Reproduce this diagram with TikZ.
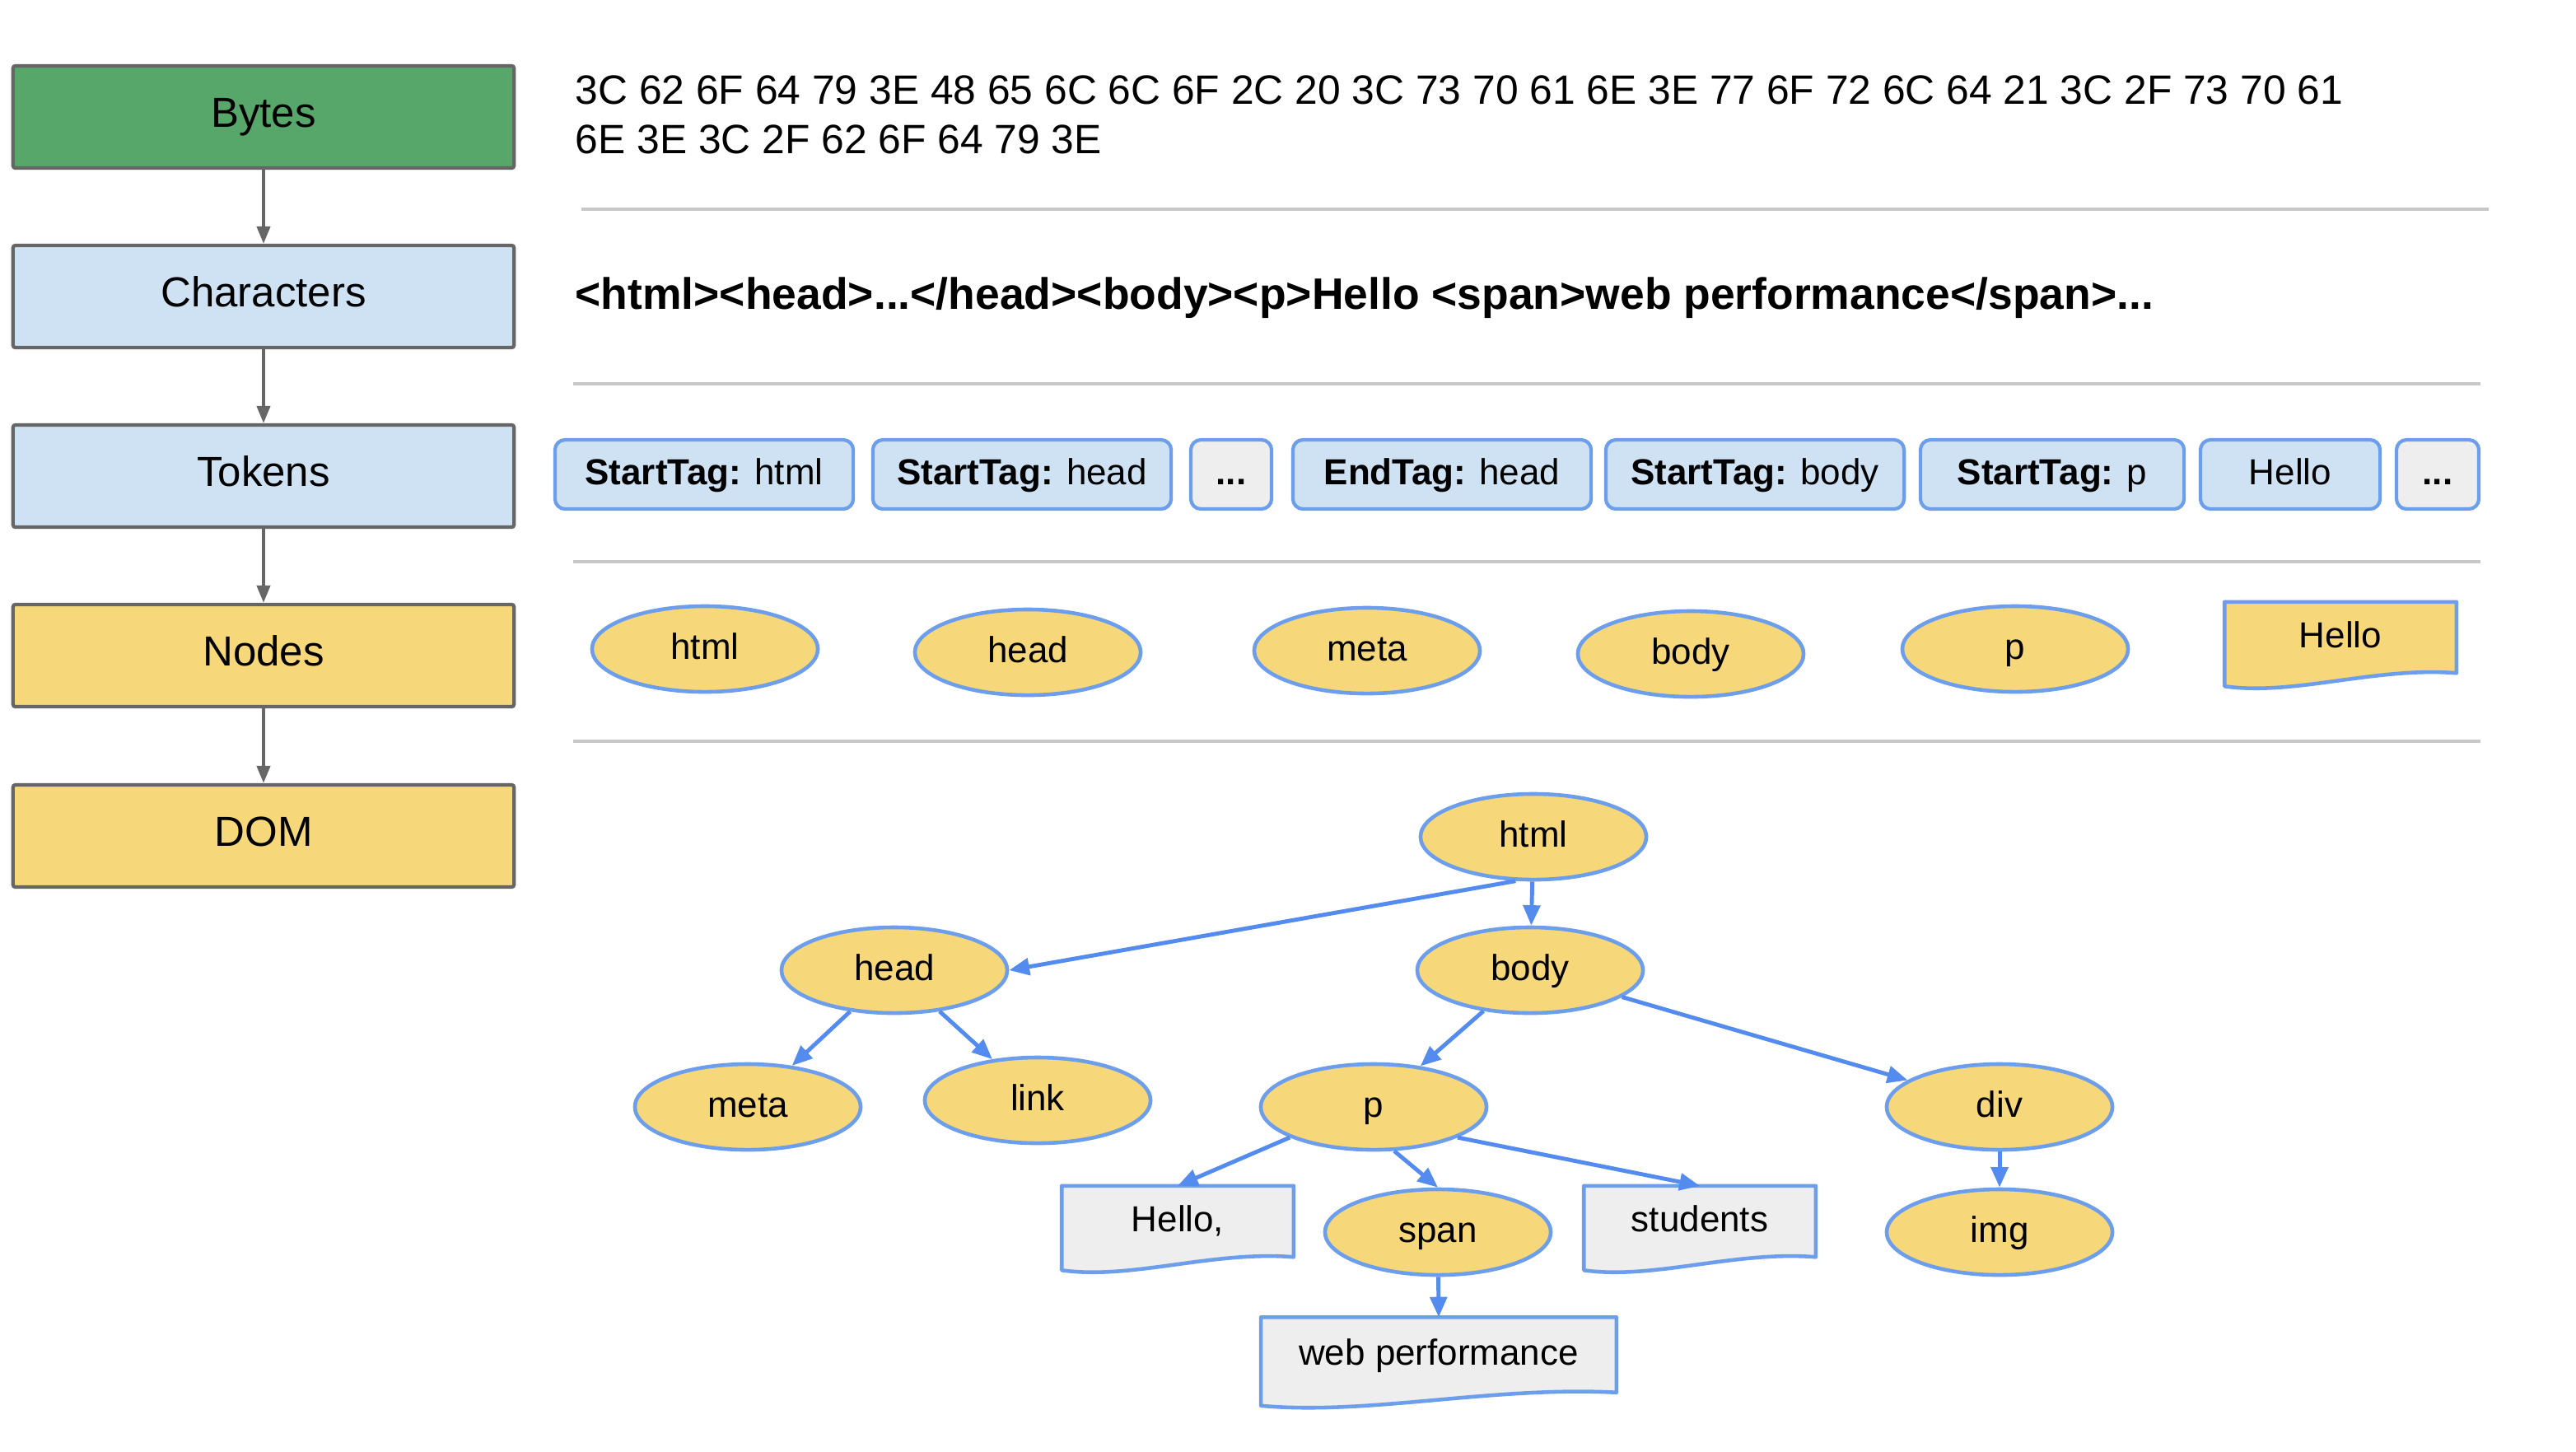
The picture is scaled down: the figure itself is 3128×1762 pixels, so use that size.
\documentclass[tikz,border=0pt]{standalone}
\usepackage{fontspec}
\setmainfont{Liberation Sans}
\usetikzlibrary{arrows.meta,shapes.geometric,backgrounds}
\definecolor{bgreen}{RGB}{87,166,106}
\definecolor{lblue}{RGB}{207,226,243}
\definecolor{nyellow}{RGB}{246,215,122}
\definecolor{bordgray}{RGB}{102,102,102}
\definecolor{bordblue}{RGB}{109,158,235}
\definecolor{arrblue}{RGB}{84,139,238}
\definecolor{lgrayfill}{RGB}{238,238,238}
\definecolor{seprule}{RGB}{200,200,200}
\tikzset{
 stage/.style={draw=bordgray, line width=1.2pt, minimum width=6.08cm, minimum height=1.24cm, inner sep=0pt,
   font=\fontsize{14.5pt}{17pt}\selectfont, text height=0.72em, text depth=0pt, rounded corners=0.8pt},
 token/.style={draw=bordblue, fill=lblue, line width=1.2pt, rounded corners=3.5pt, minimum height=0.84cm, inner sep=0pt,
   font=\fontsize{12.5pt}{15pt}\selectfont, text height=0.72em, text depth=0pt},
 elnode/.style={ellipse, draw=bordblue, fill=nyellow, line width=1.3pt, minimum width=2.74cm, minimum height=1.04cm,
   inner sep=0pt, font=\fontsize{12.5pt}{15pt}\selectfont, text height=0.72em, text depth=0pt},
 docnode/.style={inner sep=0pt, minimum width=2.8cm, minimum height=0.85cm,
   font=\fontsize{12.5pt}{15pt}\selectfont, text height=0.72em, text depth=0pt},
 docline/.style={draw=bordblue, line width=1.3pt, line join=round},
 grayarrow/.style={draw=bordgray, line width=1.1pt, -{Triangle[length=6pt,width=4.6pt]}},
 bluearrow/.style={draw=arrblue, line width=1.4pt, -{Triangle[length=7pt,width=5.8pt]}},
 sepline/.style={draw=seprule, line width=1.4pt},
}
\newcommand{\mydoc}[3]{%
 \begin{scope}[on background layer]
 \path[docline, fill=#3] (#1.north west) -- (#1.north east) -- (#1.south east)
   .. controls +({-0.35*#2},-8) and +({0.3*#2},12) .. ([yshift=-0.16cm]#1.south west) -- cycle;
 \end{scope}}
\begin{document}
\begin{tikzpicture}[x=0.01cm, y=-0.01cm]
\begin{scope}[on background layer]
\fill[white] (0,0) rectangle (3128,1762);
\end{scope}
\useasboundingbox (0,0) rectangle (3128,1762);

% left stages
\node[stage, fill=bgreen] (bytes) at (320,142) {Bytes};
\node[stage, fill=lblue] (chars) at (320,360) {Characters};
\node[stage, fill=lblue] (tokens) at (320,578) {Tokens};
\node[stage, fill=nyellow] (nodes) at (320,796) {Nodes};
\node[stage, fill=nyellow] (dom) at (320,1015) {DOM};
\draw[grayarrow] (bytes) -- (chars);
\draw[grayarrow] (chars) -- (tokens);
\draw[grayarrow] (tokens) -- (nodes);
\draw[grayarrow] (nodes) -- (dom);

% bytes text
\node[anchor=base west, inner sep=0pt, align=left, font=\fontsize{14.15pt}{17pt}\selectfont] (hex) at (698,186)
 {3C 62 6F 64 79 3E 48 65 6C 6C 6F 2C 20 3C 73 70 61 6E 3E 77 6F 72 6C 64 21 3C 2F 73 70 61\\6E 3E 3C 2F 62 6F 64 79 3E};
\draw[sepline] (706,254) -- (3022,254);

% characters text
\node[anchor=base west, inner sep=0pt, font=\fontsize{15.2pt}{18pt}\selectfont\bfseries] (chartext) at (698,375)
 {<html><head>...</head><body><p>Hello <span>web performance</span>...};
\draw[sepline] (696,466) -- (3012,466);

% tokens
\node[token, minimum width=3.62cm] (t1) at (855,576) {\textbf{StartTag:} html};
\node[token, minimum width=3.62cm] (t2) at (1241,576) {\textbf{StartTag:} head};
\node[token, minimum width=0.98cm, fill=lgrayfill] (t3) at (1495,576) {\textbf{...}};
\node[token, minimum width=3.62cm] (t4) at (1751,576) {\textbf{EndTag:} head};
\node[token, minimum width=3.62cm] (t5) at (2131,576) {\textbf{StartTag:} body};
\node[token, minimum width=3.20cm] (t6) at (2492,576) {\textbf{StartTag:} p};
\node[token, minimum width=2.18cm] (t7) at (2781,576) {Hello};
\node[token, minimum width=1.00cm, fill=lgrayfill] (t8) at (2960,576) {\textbf{...}};
\draw[sepline] (696,682) -- (3012,682);

% nodes row
\node[elnode] (n1) at (856,788) {html};
\node[elnode] (n2) at (1248,792) {head};
\node[elnode] (n3) at (1660,790) {meta};
\node[elnode] (n4) at (2053,794) {body};
\node[elnode] (n5) at (2447,788) {p};
\node[docnode] (n6) at (2842,774) {Hello};
\mydoc{n6}{280}{nyellow}
\draw[sepline] (696,900) -- (3012,900);

% DOM tree
\node[elnode] (dhtml) at (1862,1016) {html};
\node[elnode] (dhead) at (1086,1178) {head};
\node[elnode] (dbody) at (1858,1178) {body};
\node[elnode] (dmeta) at (908,1344) {meta};
\node[elnode] (dlink) at (1260,1336) {link};
\node[elnode] (dp) at (1668,1344) {p};
\node[elnode] (ddiv) at (2428,1344) {div};
\node[docnode] (dhello) at (1430,1483) {Hello,};
\mydoc{dhello}{280}{lgrayfill}
\node[elnode] (dspan) at (1746,1496) {span};
\node[docnode] (dstud) at (2064,1483) {students};
\mydoc{dstud}{280}{lgrayfill}
\node[elnode] (dimg) at (2428,1496) {img};
\node[docnode, minimum width=4.3cm, minimum height=0.9cm] (dweb) at (1747,1645) {web performance};
\mydoc{dweb}{430}{lgrayfill}

\draw[bluearrow] (dhtml.248) -- (dhead.east);
\draw[bluearrow] (dhtml) -- (dbody);
\draw[bluearrow] (dhead) -- (dmeta);
\draw[bluearrow] (dhead) -- (dlink);
\draw[bluearrow] (dbody) -- (dp);
\draw[bluearrow] (dbody) -- (ddiv);
\draw[bluearrow] (dp.200) -- (dhello.north);
\draw[bluearrow] (dp.295) -- (dspan.north);
\draw[bluearrow] (dp.340) -- (dstud.north);
\draw[bluearrow] (dspan) -- (dweb.north);
\draw[bluearrow] (ddiv) -- (dimg);
\end{tikzpicture}
\end{document}
